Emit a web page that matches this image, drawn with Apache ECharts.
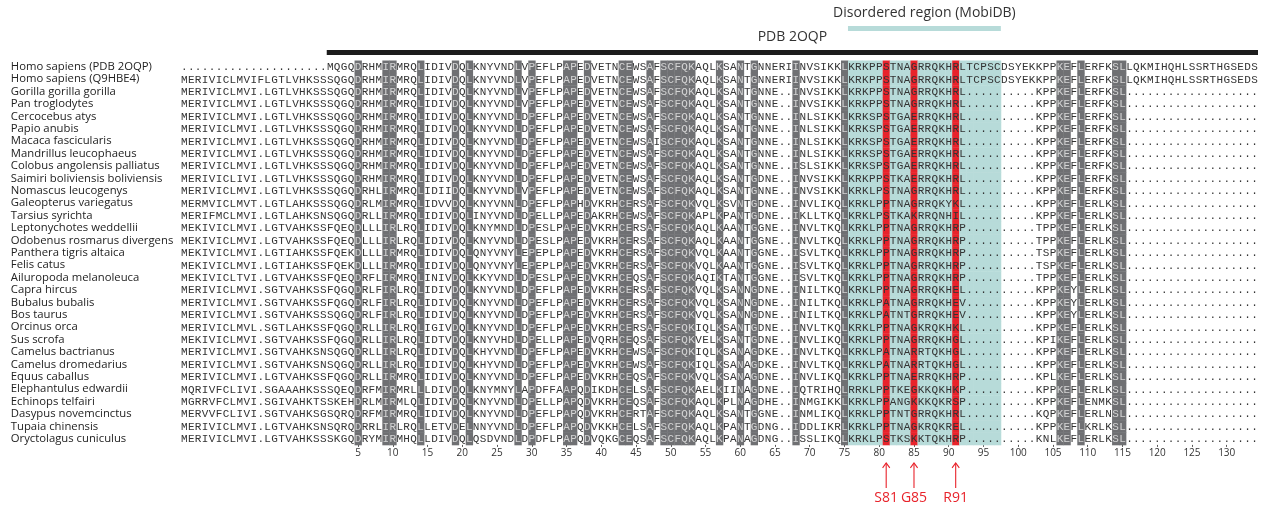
<!DOCTYPE html>
<html>
<head>
<meta charset="utf-8">
<script src="https://cdn.jsdelivr.net/npm/echarts@6/dist/echarts.min.js"></script>
<style>
  html, body { margin: 0; padding: 0; background: #ffffff; }
  #chart { width: 1267px; height: 512px; }
</style>
</head>
<body>
<div id="chart"></div>
<script>
// Species shown in the alignment, top to bottom
const species = [
  'Homo sapiens (PDB 2OQP)', 'Homo sapiens (Q9HBE4)', 'Gorilla gorilla gorilla', 'Pan troglodytes',
  'Cercocebus atys', 'Papio anubis', 'Macaca fascicularis', 'Mandrillus leucophaeus',
  'Colobus angolensis palliatus', 'Saimiri boliviensis boliviensis', 'Nomascus leucogenys',
  'Galeopterus variegatus', 'Tarsius syrichta', 'Leptonychotes weddellii', 'Odobenus rosmarus divergens',
  'Panthera tigris altaica', 'Felis catus', 'Ailuropoda melanoleuca', 'Capra hircus', 'Bubalus bubalis',
  'Bos taurus', 'Orcinus orca', 'Sus scrofa', 'Camelus bactrianus', 'Camelus dromedarius',
  'Equus caballus', 'Elephantulus edwardii', 'Echinops telfairi', 'Dasypus novemcinctus',
  'Tupaia chinensis', 'Oryctolagus cuniculus'
];

// Aligned sequences (155 columns each, '.' = gap)
const sequences = [
  '.....................MQGQ' + 'DRHMIRMRQLIDIVDQLKNYVNDLVP' + 'EFLPAPEDVETNCEWSAFSCFQKAQLKSANTGNNERIINVSIKKLKRKPPSTNA' + 'GRRQKHRL' + 'TCPSCDSYEKKPPKEFLERFKSLLQKMIHQHLSSRTHGSEDS',
  'MERIVICLMVIFLGTLVHKSSSQGQ' + 'DRHMIRMRQLIDIVDQLKNYVNDLVP' + 'EFLPAPEDVETNCEWSAFSCFQKAQLKSANTGNNERIINVSIKKLKRKPPSTNA' + 'GRRQKHRL' + 'TCPSCDSYEKKPPKEFLERFKSLLQKMIHQHLSSRTHGSEDS',
  'MERIVICLMVI.LGTLVHKSSSQGQ' + 'DRHMIRMRQLIDIVDQLKNYVNDLVP' + 'EFLPAPEDVETNCEWSAFSCFQKAQLKSANTGNNE..INVSIKKLKRKPPSTNA' + 'GRRQKHRL' + '..........' + 'KPPKEFLERFKSL' + '...................',
  'MERIVICLMVI.LGTLVHKSSSQGQ' + 'DRHMIRMRQLIDIVDQLKNYVNDLVP' + 'EFLPAPEDVETNCEWSAFSCFQKAQLKSANTGNNE..INVSIKKLKRKPPSTNA' + 'GRRQKHRL' + '..........' + 'KPPKEFLERFKSL' + '...................',
  'MERIVICLMVI.LGTLVHKSSSQGQ' + 'DRHMIRMRQLIDIVDQLKNYVNDLDP' + 'EFLPAPEDVETNCEWSAFSCFQKAQLKSANTGNNE..INLSIKKLKRKSPSTGA' + 'ERRQKHRL' + '..........' + 'KPPKEFLERFKSL' + '...................',
  'MERIVICLMVI.LGTLVHKSSSQGQ' + 'DRHMIRMRQLIDIVDQLKNYVNDLDP' + 'EFLPAPEDVETNCEWSAFSCFQKAQLKSANTGNNE..INLSIKKLKRKSPSTGA' + 'ERRQKHRL' + '..........' + 'KPPKEFLERFKSL' + '...................',
  'MERIVICLMVI.LGTLVHKSSSQGQ' + 'DRHMIRMRQLIDIVDQLKNYVNDLDP' + 'EFLPAPEDVETNCEWSAISCFQKAQLKSANTGNNE..INLSIKKLKRKSPSTGA' + 'ERRQKHRL' + '..........' + 'KPPKEFLERFKSL' + '...................',
  'MERIVICLMVI.LGTLVHKSSSQGQ' + 'DRHMIRMRQLIDIVDQLKNYVNDLDP' + 'EFLPAPEDVETNCEWSAFSCFQKAQLKSANTGNNE..INLSIKKLKRKSPSTGA' + 'ERRQKHRL' + '..........' + 'KPPKEFLERFKSL' + '...................',
  'MERIVICLMVI.LGTLVHKSSSQGQ' + 'DRHMIRMRQLIDIVDQLKNYVNDLDP' + 'EFLPAPEDVETNCEWSAFSCFQKAQLKSANTGNNE..ISLSIKKLKRKSPSTGA' + 'ERRQKHRL' + '..........' + 'KPPKEFLERFKSL' + '...................',
  'MERIVICLIVI.LGTLVHKSSSQGQ' + 'DRHMIRMRQLIDIVDQLKNYVNDLDP' + 'EFLPAPEDVETNCEWSAFSCFQKAQLKSANTGDNE..INVSIKKLKRKPPSTKA' + 'ERRQKHRL' + '..........' + 'KPPKEFLERFKSL' + '...................',
  'MERIVICLMVI.LGTLVHKSSSQGQ' + 'DRHLIRMRQLIDIIDQLKNYVNDLVP' + 'EFLPAPEDVETNCEWSAFSCFQKAQLKSANTGNNE..INVSIKKLKRKLPSTNA' + 'GRRQKHRL' + '..........' + 'KPPKEFLERFKSL' + '...................',
  'MERMVICLMVT.LGTLAHKSSSQGQ' + 'DRLMIRMRQLIDVVDQLKNYVNNLDP' + 'EFLPAPHDVKRHCERSAFSCFQKVQLKSVNTGDNE..INVLIKQLKRKLPPTNA' + 'GRRQKYKL' + '..........' + 'KPPKEFLERLKSL' + '...................',
  'MERIFMCLMVI.LGTLAHKSNSQGQ' + 'DRLLIRMRQLIDIVDQLINYVNDLDP' + 'ELLPAPEDAKRHCEWSAFSCFQKAPLKPANTGDNE..IKLLTKQLKRKLPSTKA' + 'KRRQNHIL' + '..........' + 'KPPKEFLERLKSL' + '...................',
  'MEKIVICLMVI.LGTVAHKSSFQEQ' + 'DLLLIRLRQLIDIVDQLKNYMNDLDP' + 'ESLPAPEDVKRHCERSAFSCFQKAQLKAANTGGNE..INVLTKQLKRKLPPTNA' + 'GRRQKHRP' + '..........' + 'TPPKEFLERLKSL' + '...................',
  'MEKIVICLMVI.LGTVAHKSSFQEQ' + 'DLLLIRLRQLIDIVDQLKNYVNDLDP' + 'ESLPAPEDVKRHCERSAFSCFQKAQLKAANTGGNE..INVLTKQLKRKLPPTNA' + 'GRRQKHRP' + '..........' + 'TPPKEFLERLKSL' + '...................',
  'MEKIVICLMVI.LGTIAHKSSFQEK' + 'DLLLIRMRQLIDIVDQLQNYVNYLEP' + 'EPLPAPEDVKRHCERSAFSCFQKVQLKAANTGGNE..ISVLTKQLKRKLPPTNA' + 'GRRQKHRP' + '..........' + 'TSPKEFLERLKSL' + '...................',
  'MEKIVICLMVI.LGTIAHKSSFQEK' + 'DLLLIRMRQLIDIVDQLQNYVNYLEP' + 'EPLPAPEDVKRHCERSAFSCFQKVQLKAANTGGNE..ISVLTKQLKRKLPPTNA' + 'GRRQKHRP' + '..........' + 'TSPKEFLERLKSL' + '...................',
  'MEKIVICLTVI.LGTVAHKSSFQEQ' + 'DRFLIRMRQLINIVDQLKKYVNDLDP' + 'ESLPAPEDVKRHCEQSAFSCFQKAQIKTANTGGNE..ISVLTKQLKRKLPPTNA' + 'GRRQKHRP' + '..........' + 'TPPKEFLERLKSL' + '...................',
  'MERIVICLMVI.SGTVAHKSSFQGQ' + 'DRLFIRLRQLIDIVDQLKNYVNDLDP' + 'EFLPAPEDVKRHCERSAFSCFQKVQLKSANNGDNE..INILTKQLKRKLPPTNA' + 'GRRQKHEL' + '..........' + 'KPPKEYLERLKSL' + '...................',
  'MERIVICLMVI.SGTVAHKSSFQGQ' + 'DRLFIRLRQLIDIVDQLKNYVNDLDP' + 'EFLPAPEDVKRHCERSAFSCFQKVQLKSANNGDNE..INILTKQLKRKLPATNA' + 'GRRQKHEV' + '..........' + 'KPPKEYLERLKSL' + '...................',
  'MERIVICLMVI.SGTVAHKSSSQGQ' + 'DRLFIRLRQLIDIVDQLKNYVNDLDP' + 'EFLPAPEDVKRHCERSAFSCFQKVQLKSANNGDNE..INILTKQLKRKLPATNT' + 'GRRQKHEV' + '..........' + 'KPPKEYLERLKSL' + '...................',
  'MERIVICLMVL.SGTLAHKSSFQGQ' + 'DRLLIRLRQLIGIVDQLKNYVNDLDP' + 'EFLPAPEDVKRHCERSAFSCFQKIQLKSANTGDNE..INVLTKQLKRKLPPTNA' + 'GKRQKHKL' + '..........' + 'KPPKEFLERLKSL' + '...................',
  'MEKIVICLMVI.SGTVAHKSSFQGQ' + 'DRLLIRLRQLIDTVDQLKNYVHDLDP' + 'ELLPAPEDVQRHCEQSAFSCFQKVELKSANTGDNE..INVLIKQLKRKLPPTNA' + 'GRRQKHGL' + '..........' + 'KPIKEFLERLKSL' + '...................',
  'MERIVICLMVI.SGTVAHKSNSQGQ' + 'DRLLIRLRQLIDIVDQLKHYVNDLDP' + 'EFLPAPEDVKRHCEWSAFSCFQKIQLKSANAGDKE..INVLTKQLKRKLPATNA' + 'RRTQKHGL' + '..........' + 'KPPKEFLERLKSL' + '...................',
  'MERIVICLMVI.SGTVAHKSNSQGQ' + 'DRLLIRLRQLIDIVDQLKHYVNDLDP' + 'EFLPAPEDVKRHCEWSAFSCFQKIQLKSANAGDKE..INVLTKQLKRKLPATNA' + 'RRTQKHGL' + '..........' + 'KPPKEFLERLKSL' + '...................',
  'MERIVICLMVI.LGTVAHKSSFQGQ' + 'DRLLIRMRQLIDIVDQLKNYVNDLDP' + 'EFLPAPEDVKRHCEQSAFSCFQKVQLKSANAGDNE..INVLIKQLKRKLPPTNA' + 'ERRQKHRP' + '..........' + 'KPLKEFLERLKSL' + '...................',
  'MQRIVFCLIVI.SGAAAHKSSSQEQ' + 'DRFMIRMRLLLDIVDQLKNYMNYLAP' + 'DFFAAPQDIKDHCELSAFSCFQKAELKIINAGDNE..IQTRIHQLRRKLPPTKE' + 'GKKQKHKP' + '..........' + 'KPPKEFLERLKSL' + '...................',
  'MGRRVFCLMVI.SGIVAHKTSSKEH' + 'DRLMIRMLQLIDIVDQLKNYVNDLDP' + 'ELLPAPQDVKRHCEQSAFSCFQKAQLKPLNAGDHE..INMGIKKLKRKLPPANG' + 'KKKQKRSP' + '..........' + 'KPPKEFLENMKSL' + '...................',
  'MERVVFCLIVI.SGTVAHKSGSQRQ' + 'DRFMIRMRQLIDIVDQLKNYVNDLDP' + 'EFLPAPQDVKRHCERTAFSCFQKAQLKSANTGGNE..INMLIKQLKRKLPPTNT' + 'GRRQKHRL' + '..........' + 'KQPKEFLERLNSL' + '...................',
  'MERIVICLMVI.LGTVAHKSNSQRQ' + 'DRRLIRLRQLLETVDELNNYVNDLDP' + 'EFLPAPQDVKKHCELSAFSCFQKAQLKPANTGDNG..IDDLIKRLKRKLPPTNA' + 'GKRQKREL' + '..........' + 'KPPKEFLKRLKSL' + '...................',
  'MERIVICLMVI.LGTVAHKSSSKGQ' + 'DRYMIRMHQLLDIVDQLQSDVNDLDP' + 'DFLPAPQDVQKGCEQSAFSCFQKAQLKPANAGDNG..ISSLIKQLKRKLPSTKS' + 'KKTQKHRP' + '..........' + 'KNLKEFLERLKSL' + '...................'
];

// Residue 1 of the reference sequence sits in this alignment column (1-based)
const firstResidueColumn = 22;

// Annotation tracks above the alignment (residue numbering of the reference sequence)
const structureRange = [1, 134];
const structureLabel = 'PDB 2OQP';
const disorderRange = [76, 97];
const disorderLabel = 'Disordered region (MobiDB)';

// Highlighted sites below the alignment
const markedPositions = [81, 85, 91];
const markedLabels = ['S81', 'G85', 'R91'];

// Ruler tick labels
const tickLabels = [5, 10, 15, 20, 25, 30, 35, 40, 45, 50, 55, 60, 65, 70, 75, 80, 85, 90, 95, 100, 105, 110, 115, 120, 125, 130];

// ---------- colours & fonts ----------
const COL_TEXT = '#333333';
const COL_CONS_BG = '#6f7073';
const COL_CONS_TX = '#d4d4d4';
const COL_DIS_BG = '#b7dbd9';
const COL_SITE = '#e8232b';
const SEQ_FONT = '"Liberation Mono", "DejaVu Sans Mono", monospace';
const SANS = '"Open Sans", "Noto Sans", sans-serif';

const nCols = sequences[0].length;
const offset = firstResidueColumn - 1;   // columns before residue 1

// Build cells: residue number, row, character and shading class
// shading: 0 none, 1 identical in every sequence, 2 disordered region, 3 marked site
const cellData = [];
const cellChar = [];
const cellKind = [];
for (let c = 0; c < nCols; c++) {
  const pos = c + 1 - offset;
  const first = sequences[0][c];
  let conserved = first !== '.';
  for (let r = 1; r < sequences.length && conserved; r++) {
    if (sequences[r][c] !== first) conserved = false;
  }
  let kind = 0;
  if (markedPositions.indexOf(pos) >= 0) kind = 3;
  else if (pos >= disorderRange[0] && pos <= disorderRange[1]) kind = 2;
  else if (conserved) kind = 1;
  for (let r = 0; r < sequences.length; r++) {
    cellData.push([pos, r]);
    cellChar.push(sequences[r][c] || '.');
    cellKind.push(kind);
  }
}

function renderCell(params, api) {
  const i = params.dataIndex;
  const pt = api.coord([api.value(0), api.value(1)]);
  const w = api.size([1, 0])[0];
  const h = api.size([0, 1])[1];
  const kind = cellKind[i];
  const children = [];
  if (kind) {
    const fill = kind === 1 ? COL_CONS_BG : kind === 2 ? COL_DIS_BG : COL_SITE;
    children.push({
      type: 'rect',
      shape: { x: pt[0] - w / 2, y: pt[1] - h / 2, width: w + 0.4, height: h + 0.4 },
      style: { fill: fill }
    });
  }
  children.push({
    type: 'text',
    style: {
      text: cellChar[i], x: pt[0], y: pt[1] + 0.5,
      align: 'center', verticalAlign: 'middle',
      fontFamily: SEQ_FONT, fontSize: 11,
      fill: kind === 1 ? COL_CONS_TX : COL_TEXT
    }
  });
  return { type: 'group', children: children };
}

// Annotation tracks: bar + caption
const tracks = [
  [structureRange[0], structureRange[1], 0],
  [disorderRange[0], disorderRange[1], 0]
];
const trackLabels = [structureLabel, disorderLabel];
const trackStyle = [
  { barY: -10.5, barH: 5, color: '#1c1c1c', textY: -23.5 },
  { barY: -34.5, barH: 5, color: COL_DIS_BG, textY: -47.5 }
];
function renderTrack(params, api) {
  const s = trackStyle[params.dataIndex];
  const x0 = api.coord([api.value(0) - 0.5, 0])[0];
  const x1 = api.coord([api.value(1) + 0.5, 0])[0];
  const top = params.coordSys.y;
  return {
    type: 'group',
    children: [
      { type: 'rect', shape: { x: x0, y: top + s.barY, width: x1 - x0, height: s.barH }, style: { fill: s.color } },
      { type: 'text', style: { text: trackLabels[params.dataIndex], x: (x0 + x1) / 2, y: top + s.textY,
        align: 'center', verticalAlign: 'middle', fontFamily: SANS, fontSize: 14, fill: '#333333' } }
    ]
  };
}

// Site arrows with labels
function renderSite(params, api) {
  const x = api.coord([api.value(0), 0])[0];
  const bottom = params.coordSys.y + params.coordSys.height;
  const tip = bottom + 18, tail = bottom + 43;
  return {
    type: 'group',
    children: [
      { type: 'line', shape: { x1: x, y1: tip, x2: x, y2: tail }, style: { stroke: COL_SITE, lineWidth: 1.1 } },
      { type: 'polyline', shape: { points: [[x - 3.6, tip + 5], [x, tip], [x + 3.6, tip + 5]] },
        style: { stroke: COL_SITE, lineWidth: 1.1, fill: null } },
      { type: 'text', style: { text: markedLabels[params.dataIndex], x: x, y: bottom + 53,
        align: 'center', verticalAlign: 'middle', fontFamily: SANS, fontSize: 14, fill: COL_SITE } }
    ]
  };
}

const chart = echarts.init(document.getElementById('chart'), null, { renderer: 'canvas' });
chart.setOption({
  animation: false,
  backgroundColor: '#ffffff',
  grid: { left: 180.8, right: 9, top: 60.5, bottom: 67.1, containLabel: false },
  xAxis: {
    type: 'value',
    min: -offset + 0.5,
    max: -offset + nCols + 0.5,
    axisLine: { show: false },
    splitLine: { show: false },
    axisTick: { show: true, customValues: tickLabels, length: 2, lineStyle: { color: '#555555', width: 1 } },
    axisLabel: { show: true, customValues: tickLabels, margin: 3, fontFamily: SANS, fontSize: 10, color: '#333333' }
  },
  yAxis: {
    type: 'category',
    inverse: true,
    data: species,
    axisLine: { show: false },
    axisTick: { show: false },
    splitLine: { show: false },
    axisLabel: { interval: 0, align: 'left', margin: 170, fontFamily: SANS, fontSize: 11.3, color: '#222222' }
  },
  series: [
    {
      type: 'custom',
      name: 'alignment',
      renderItem: renderCell,
      data: cellData,
      encode: { x: 0, y: 1 },
      progressive: 0,
      clip: false,
      silent: true
    },
    {
      type: 'custom',
      name: 'tracks',
      renderItem: renderTrack,
      data: tracks,
      encode: { x: [0, 1], y: 2 },
      clip: false,
      silent: true
    },
    {
      type: 'custom',
      name: 'sites',
      renderItem: renderSite,
      data: markedPositions.map(p => [p, 0]),
      encode: { x: 0, y: 1 },
      clip: false,
      silent: true
    }
  ]
});
</script>
</body>
</html>
